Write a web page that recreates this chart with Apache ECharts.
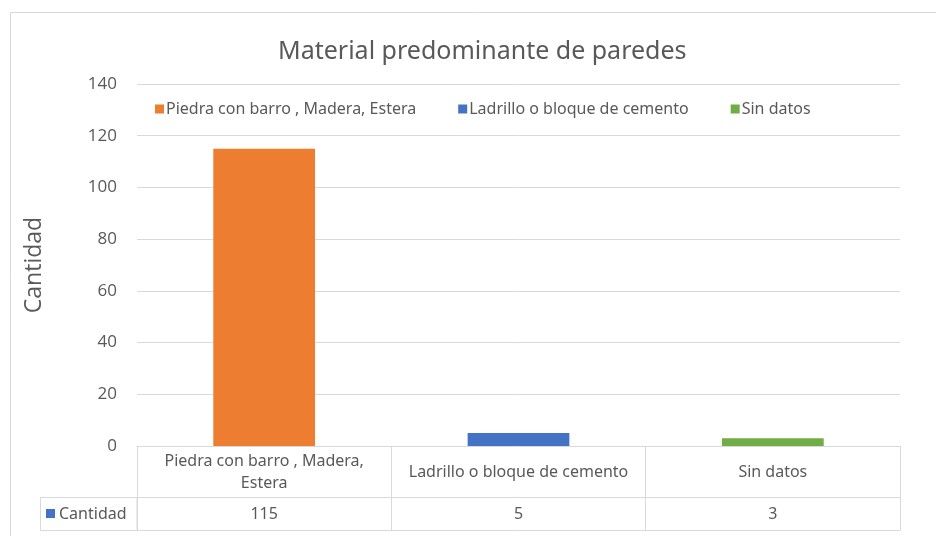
<!DOCTYPE html>
<html><head><meta charset="utf-8">
<script src="https://cdn.jsdelivr.net/npm/echarts@6/dist/echarts.min.js"></script>
<style>html,body{margin:0;padding:0;background:#fff}#c{width:936px;height:536px}</style>
</head><body><div id="c"></div>
<script>
const title = 'Material predominante de paredes';
const categories = ['Piedra con barro , Madera, Estera', 'Ladrillo o bloque de cemento', 'Sin datos'];
const categoryLabels = ['Piedra con barro , Madera,\nEstera', 'Ladrillo o bloque de cemento', 'Sin datos'];
const seriesName = 'Cantidad';
const values = [115, 5, 3];
const colors = ['#ED7D31', '#4472C4', '#70AD47'];
const yTicks = {min: 0, max: 140, interval: 20};

const txt = '#595959';
const fontMain = '"Noto Sans", sans-serif';
const fontNum = '"Open Sans", "Noto Sans", sans-serif';
const line = '#d9d9d9';

const series = categories.map((name, i) => ({
  name: name,
  type: 'bar',
  stack: 'one',
  barWidth: '40%',
  itemStyle: {color: colors[i]},
  data: values.map((v, j) => j === i ? v : '-')
}));

const chart = echarts.init(document.getElementById('c'), null, {renderer: 'canvas'});
chart.setOption({
  animation: false,
  backgroundColor: '#fff',
  title: {
    text: title, left: 273, top: 34,
    textStyle: {fontFamily: fontMain, fontSize: 25, fontWeight: 'normal', color: txt}
  },
  legend: {
    top: 96, left: 150, itemWidth: 9, itemHeight: 9, itemGap: 42,
    icon: 'rect',
    textStyle: {fontFamily: fontMain, fontSize: 16, color: txt, padding: [0, 0, 0, -3]},
    data: categories
  },
  grid: {left: 137, right: 36, top: 84, bottom: 90, containLabel: false},
  yAxis: {
    type: 'value', min: yTicks.min, max: yTicks.max, interval: yTicks.interval,
    name: seriesName, nameLocation: 'middle', nameGap: 91, nameRotate: 90,
    nameTextStyle: {fontFamily: fontNum, fontSize: 23, color: txt},
    axisLabel: {fontFamily: fontNum, fontSize: 17, color: txt, margin: 20},
    axisLine: {show: false}, axisTick: {show: false},
    splitLine: {lineStyle: {color: line, width: 1}}
  },
  xAxis: [
    {
      type: 'category', data: categoryLabels, position: 'bottom',
      axisLine: {show: true, lineStyle: {color: line}},
      axisTick: {show: true, length: 51, lineStyle: {color: line}},
      axisLabel: {fontFamily: fontMain, fontSize: 16, color: txt, margin: 26, verticalAlign: 'middle', lineHeight: 22, interval: 0}
    },
    {
      type: 'category', data: values.map(String), position: 'bottom', offset: 51,
      axisLine: {show: true, lineStyle: {color: line}},
      axisTick: {show: true, length: 33, lineStyle: {color: line}},
      axisLabel: {fontFamily: fontMain, fontSize: 16, color: txt, margin: 17, verticalAlign: 'middle', interval: 0}
    },
    {
      type: 'category', data: values.map(String), position: 'bottom', offset: 84,
      axisLine: {show: true, lineStyle: {color: line}},
      axisTick: {show: false}, axisLabel: {show: false}
    }
  ],
  graphic: [
    {type: 'rect', shape: {x: 10.5, y: 12.5, width: 1000, height: 1000}, style: {fill: 'none', stroke: line, lineWidth: 1}, silent: true, z: -1},
    {type: 'rect', shape: {x: 40.5, y: 497.5, width: 96.5, height: 33}, style: {fill: 'none', stroke: line, lineWidth: 1}, silent: true},
    {type: 'rect', shape: {x: 46, y: 509, width: 9, height: 9}, style: {fill: colors[1]}, silent: true},
    {type: 'text', x: 59, y: 514, style: {text: seriesName, fontFamily: fontMain, fontSize: 16, fill: txt, verticalAlign: 'middle'}, silent: true}
  ],
  series: series
});
</script></body></html>
